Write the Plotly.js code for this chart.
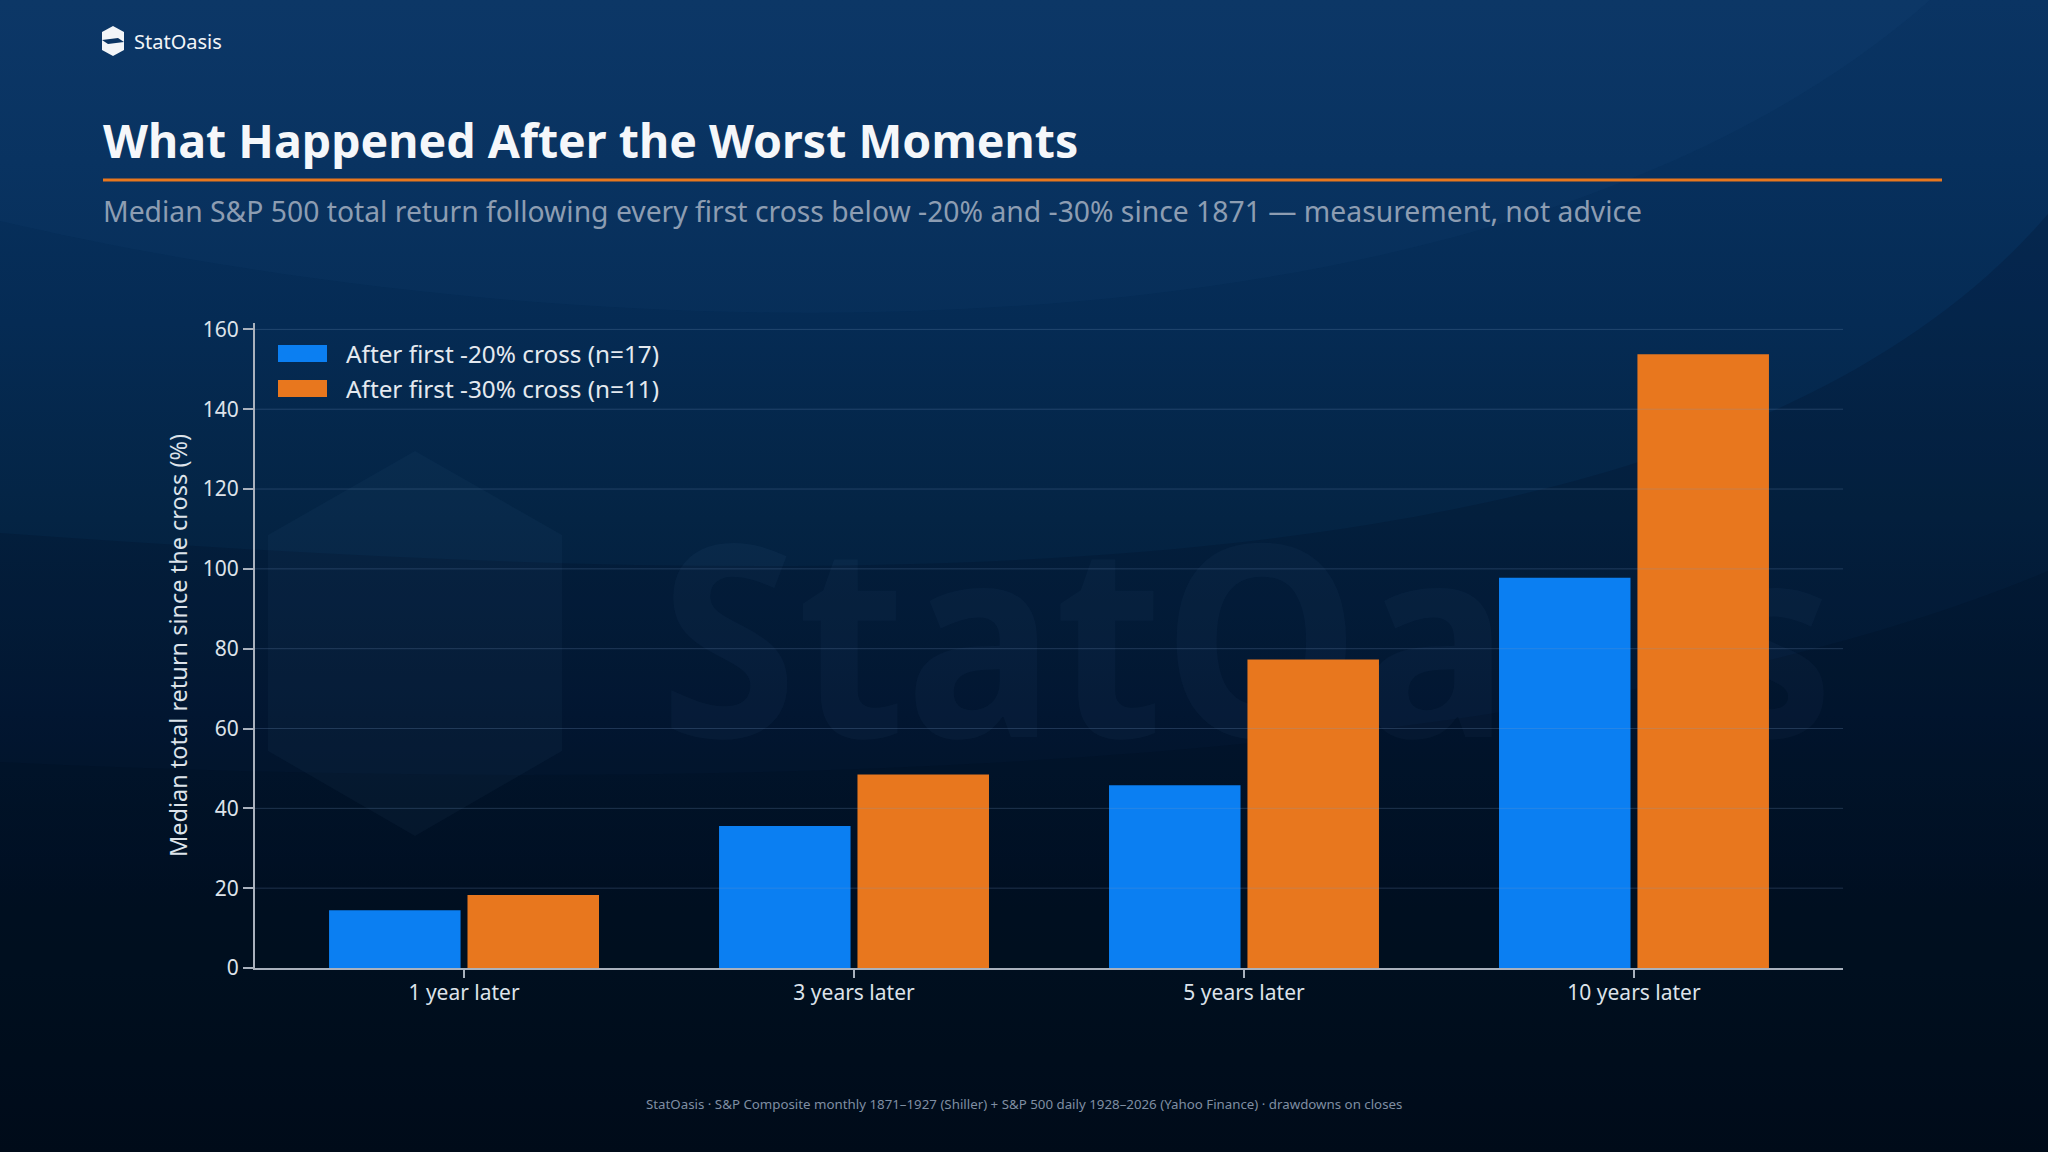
<!DOCTYPE html>
<html>
<head>
<meta charset="utf-8">
<script src="https://cdn.plot.ly/plotly-3.0.1.min.js"></script>
<style>
  html, body { margin: 0; padding: 0; }
  body {
    position: relative;
    width: 2048px; height: 1152px; overflow: hidden;
    background: linear-gradient(180deg, #0a3463 0%, #07305d 14%, #052b54 28%, #042444 45%, #031a36 62%, #021325 80%, #010e1c 100%);
  }
  #watermark {
    position: absolute; left: 0; top: 500px; width: 2494px;
    text-align: center; line-height: 1;
    font-family: "Noto Sans", "Open Sans", sans-serif; font-weight: 700;
    font-size: 268px; color: rgba(120,160,210,0.05);
    transform: scaleX(0.93); transform-origin: 1247px 50%;
    white-space: nowrap; pointer-events: none; z-index: 0;
  }
  #chart { position: absolute; left: 0; top: 0; width: 2048px; height: 1152px; z-index: 1; }
</style>
</head>
<body>
<div id="watermark"></div>
<div id="chart"></div>
<script>
// ---- data ----
const categories = ["1 year later", "3 years later", "5 years later", "10 years later"];
const seriesNames = ["After first -20% cross (n=17)", "After first -30% cross (n=11)"];
const after20 = [14.5, 35.6, 45.8, 97.8];
const after30 = [18.3, 48.5, 77.3, 153.8];
const yTicks = [0, 20, 40, 60, 80, 100, 120, 140, 160];

const titleText = "What Happened After the Worst Moments";
const subtitleText = "Median S&P 500 total return following every first cross below -20% and -30% since 1871 — measurement, not advice";
const yTitleText = "Median total return since the cross (%)";
const footerText = "StatOasis · S&P Composite monthly 1871–1927 (Shiller) + S&P 500 daily 1928–2026 (Yahoo Finance) · drawdowns on closes";
const brandText = "StatOasis";

document.getElementById("watermark").textContent = brandText;

// ---- layout geometry (pixels) ----
const FW = 2048, FH = 1152;
const L = 255, R = 1843, T = 323, B = 968;
const PW = R - L, PH = B - T;
const px = x => (x - L) / PW;
const py = y => (B - y) / PH;
const P = (x, y) => px(x) + "," + py(y);

const BLUE = "#0b7ff2", ORANGE = "#e8771e";
const FONT = '"Noto Sans", "Open Sans", Lato, sans-serif';

const traces = [
  { type: "bar", name: seriesNames[0], x: categories, y: after20,
    marker: { color: BLUE }, showlegend: false, hoverinfo: "skip" },
  { type: "bar", name: seriesNames[1], x: categories, y: after30,
    marker: { color: ORANGE }, showlegend: false, hoverinfo: "skip" }
];

function poly(pts) {
  return "M" + pts.map(p => P(p[0], p[1])).join(" L") + " Z";
}

const shapes = [
  // background bands
  { type: "path", xref: "paper", yref: "paper", layer: "below",
    path: "M" + P(0, 0) + " L" + P(0, 221) + " C" + P(600, 360) + " " + P(1500, 380) + " " + P(1930, 0) + " Z",
    fillcolor: "rgba(50,110,180,0.05)", line: { width: 0 } },
  { type: "path", xref: "paper", yref: "paper", layer: "below",
    path: "M" + P(0, 533) + " C" + P(800, 590) + " " + P(1700, 620) + " " + P(2048, 214) +
          " L" + P(2048, 1152) + " L" + P(0, 1152) + " Z",
    fillcolor: "rgba(0,8,22,0.16)", line: { width: 0 } },
  { type: "path", xref: "paper", yref: "paper", layer: "below",
    path: "M" + P(0, 762) + " C" + P(800, 800) + " " + P(1600, 760) + " " + P(2048, 571) +
          " L" + P(2048, 1152) + " L" + P(0, 1152) + " Z",
    fillcolor: "rgba(0,6,16,0.12)", line: { width: 0 } },
  // watermark hexagon
  { type: "path", xref: "paper", yref: "paper", layer: "below",
    path: poly([[415,451],[562,535],[562,751],[415,836],[268,751],[268,535]]),
    fillcolor: "rgba(120,160,210,0.045)", line: { width: 0 } },
  // brand icon
  { type: "path", xref: "paper", yref: "paper", layer: "above",
    path: poly([[113,26],[124,32],[124,50],[113,56],[102,50],[102,32]]),
    fillcolor: "#f2f5f8", line: { width: 0 } },
  { type: "path", xref: "paper", yref: "paper", layer: "above",
    path: poly([[102,40],[118,38],[124,42],[108,44]]),
    fillcolor: "#0a3463", line: { width: 0 } },
  // orange rule
  { type: "line", xref: "paper", yref: "paper",
    x0: px(103), x1: px(1942), y0: py(180), y1: py(180),
    line: { color: ORANGE, width: 3 } },
  // legend swatches
  { type: "rect", xref: "paper", yref: "paper",
    x0: px(278), x1: px(327), y0: py(345), y1: py(362),
    fillcolor: BLUE, line: { width: 0 } },
  { type: "rect", xref: "paper", yref: "paper",
    x0: px(278), x1: px(327), y0: py(380), y1: py(397),
    fillcolor: ORANGE, line: { width: 0 } }
];

// horizontal grid lines drawn above the bars (as in the reference)
yTicks.filter(v => v > 0).forEach(v => {
  shapes.push({ type: "line", xref: "paper", yref: "y", layer: "above",
    x0: 0, x1: 1, y0: v, y1: v,
    line: { color: "rgba(120,150,195,0.26)", width: 1 } });
});

const annotations = [
  { xref: "paper", yref: "paper", x: px(132), y: py(41), text: brandText,
    showarrow: false, xanchor: "left", yanchor: "middle",
    font: { family: FONT, size: 20, color: "#f2f5f8" } },
  { xref: "paper", yref: "paper", x: px(101), y: py(140), text: "<b>" + titleText + "</b>",
    showarrow: false, xanchor: "left", yanchor: "middle",
    font: { family: FONT, size: 46.5, color: "#f5f7fa" } },
  { xref: "paper", yref: "paper", x: px(101), y: py(211), text: subtitleText,
    showarrow: false, xanchor: "left", yanchor: "middle",
    font: { family: FONT, size: 28.3, color: "#8d9db2" } },
  { xref: "paper", yref: "paper", x: px(344), y: py(353.5), text: seriesNames[0],
    showarrow: false, xanchor: "left", yanchor: "middle",
    font: { family: FONT, size: 24.3, color: "#e4e9ef" } },
  { xref: "paper", yref: "paper", x: px(344), y: py(388.5), text: seriesNames[1],
    showarrow: false, xanchor: "left", yanchor: "middle",
    font: { family: FONT, size: 24.3, color: "#e4e9ef" } },
  { xref: "paper", yref: "paper", x: px(1024), y: py(1104), text: footerText,
    showarrow: false, xanchor: "center", yanchor: "middle",
    font: { family: FONT, size: 13.3, color: "#7f8ea2" } }
];

const layout = {
  width: FW, height: FH,
  margin: { l: L, r: FW - R, t: T, b: FH - B, pad: 0 },
  paper_bgcolor: "rgba(0,0,0,0)",
  plot_bgcolor: "rgba(0,0,0,0)",
  barmode: "group",
  bargap: 0.29,
  bargroupgap: 0.05,
  showlegend: false,
  font: { family: FONT, color: "#dde3ea" },
  xaxis: {
    type: "category",
    range: [-0.536, 3.536],
    showline: true, linecolor: "#a9b1bd", linewidth: 2,
    ticks: "outside", ticklen: 8, tickwidth: 2, tickcolor: "#a9b1bd",
    ticklabelstandoff: -3,
    showgrid: false, zeroline: false,
    tickfont: { family: FONT, size: 21, color: "#dde3ea" },
    fixedrange: true
  },
  yaxis: {
    range: [0, 161.6],
    tickvals: yTicks,
    showline: true, linecolor: "#a9b1bd", linewidth: 2,
    ticks: "outside", ticklen: 10, tickwidth: 2, tickcolor: "#a9b1bd",
    showgrid: false,
    zeroline: false,
    tickfont: { family: FONT, size: 21, color: "#dde3ea" },
    title: { text: yTitleText, standoff: 9, font: { family: FONT, size: 23.5, color: "#dde3ea" } },
    fixedrange: true
  },
  shapes: shapes,
  annotations: annotations
};

Plotly.newPlot("chart", traces, layout, { displayModeBar: false, staticPlot: true });
</script>
</body>
</html>
